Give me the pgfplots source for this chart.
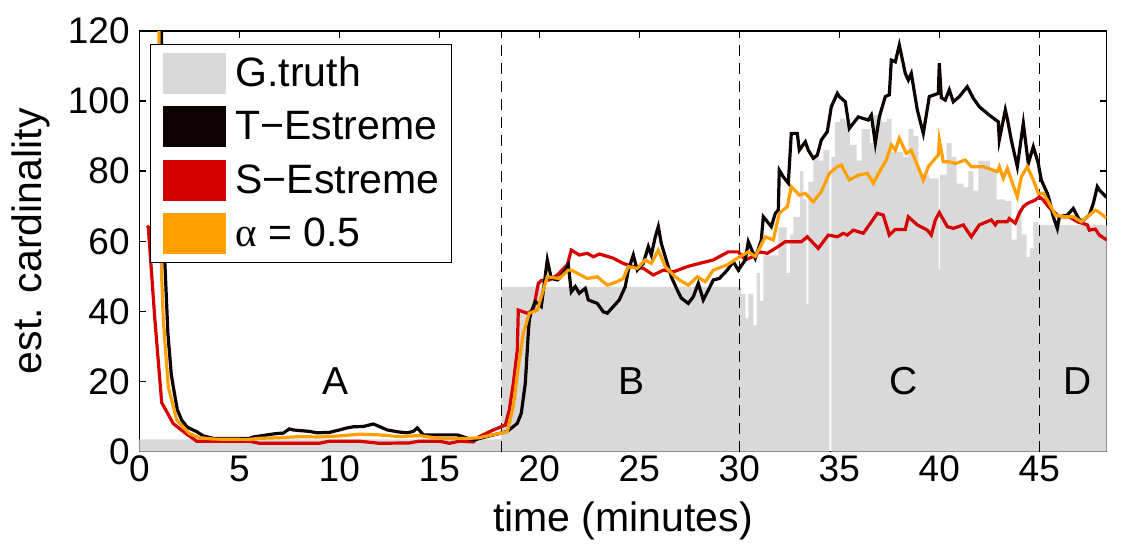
\documentclass[border=0pt]{standalone}
\usepackage{fontspec}
\setmainfont{Liberation Sans}
\newfontfamily\greekserif{Liberation Serif}
\usepackage{pgfplots}
\pgfplotsset{compat=1.18}
\definecolor{gtgray}{RGB}{217,217,217}
\definecolor{sred}{RGB}{214,0,0}
\definecolor{aorange}{RGB}{255,160,0}
\definecolor{tblack}{RGB}{12,2,2}

\begin{document}
\begin{tikzpicture}
\begin{axis}[
  scale only axis, width=483.7pt, height=210.35pt,
  xmin=0, xmax=48.37, ymin=0, ymax=120,
  xtick={0,5,...,45}, ytick={0,20,...,120},
  tick align=inside, major tick length=3.5pt,
  axis line style={line width=0.75pt},
  every tick/.style={line width=0.75pt, black},
  /pgf/number format/assume math mode=true,
  ticklabel style={font=\fontsize{18.5}{22}\selectfont},
  xticklabel style={anchor=base, yshift=-14.65pt, inner sep=0pt},
  yticklabel style={anchor=east, xshift=-4.65pt, inner sep=0pt},
  xlabel={time (minutes)},
  xlabel style={at={(axis description cs:0.5,-0.1902)}, anchor=base, font=\fontsize{20.5}{24}\selectfont},
  ylabel={est. cardinality},
  ylabel style={at={(axis description cs:-0.1006,0.5)}, anchor=base, font=\fontsize{20.5}{24}\selectfont},
  legend style={at={(axis description cs:0,1)}, anchor=north west, xshift=5.35pt, yshift=-6.5pt,
    draw=black, line width=0.6pt, fill=white, inner xsep=6pt, inner ysep=4pt,
    row sep=6.15pt, column sep=4.5pt,
    nodes={inner sep=0pt, font=\fontsize{20.5}{24}\selectfont}},
  legend cell align=left,
]
% ground truth cardinality (step function)
\addplot[forget plot, fill=gtgray, draw=none, const plot] coordinates {
(0,3.5) (18.1,47) (30.0,47) (30.1,45) (30.3,38) (30.45,45) (30.7,36) (30.87,51)
(31.04,43) (31.2,56) (31.95,64) (32.37,51) (32.54,62) (32.7,67) (33.04,80) (33.2,72)
(33.37,42) (33.45,77) (33.7,84) (33.95,83) (34.2,86) (34.5,0) (34.6,84) (34.79,94)
(35.04,95) (35.29,94) (35.54,87.5) (35.87,83) (36.12,92) (36.54,88) (36.7,96) (37.12,94)
(37.37,95) (37.62,85.5) (38.2,84) (38.45,92) (38.7,90) (38.95,79) (39.5,78) (39.97,52)
(40.03,79) (40.37,88) (40.62,84) (40.87,76.5) (41.2,75.5) (41.45,80) (41.7,74.5) (41.95,83)
(42.53,80) (42.87,72) (43.28,71.5) (43.62,60.5) (43.87,69) (44.12,62) (44.37,55.5) (44.53,58)
(44.7,65.5) (44.95,64.7) (48.37,64.7)
} \closedcycle;

% phase boundaries
\addplot[forget plot, black, line width=0.75pt, dash pattern=on 5.5pt off 3.5pt] coordinates {(18.1,0) (18.1,120)};
\addplot[forget plot, black, line width=0.75pt, dash pattern=on 5.5pt off 3.5pt] coordinates {(30,0) (30,120)};
\addplot[forget plot, black, line width=0.75pt, dash pattern=on 5.5pt off 3.5pt] coordinates {(45,0) (45,120)};

% S-Estreme
\addplot[forget plot, sred, line width=1.6pt] coordinates {
(0.4,64.5) (0.45,64) (0.78,37.6) (1.12,14) (1.7,8) (2.37,5) (2.87,3) (5.5,3) (6.0,2.4)
(9.0,2.4) (9.5,3.0) (11.0,3.0) (12.0,2.4) (13.5,2.5) (14.0,3.0) (15.0,3.0) (15.5,2.4)
(16.0,3.0) (16.7,2.8) (17.0,4.3) (17.7,6.2) (18.3,7.6) (18.5,11.9) (18.7,19.5) (18.9,29)
(18.95,40.4) (19.2,39.9) (19.4,39.5) (19.7,40.4) (19.95,48) (20.1,48.8) (20.5,49) (20.9,50.4)
(21.4,53.3) (21.6,57.5) (22.0,56.1) (22.4,56.6) (22.7,55.6) (23.0,56.4) (23.7,55.2) (24.2,53.7)
(24.7,52.8) (25.2,52.3) (25.7,50.4) (26.2,51.8) (26.7,51.3) (27.4,52.8) (28.0,53.7) (28.7,54.7)
(29.45,57) (29.95,57) (30.3,54.7) (30.7,55.7) (31.0,57) (31.4,56.6) (31.8,58) (32.3,59.9)
(33.1,59.9) (33.4,61.3) (33.95,58) (34.45,61.8) (34.9,61.3) (35.2,62.3) (35.4,61.8) (35.7,63.2)
(36.2,62.3) (36.5,64.7) (36.9,68) (37.2,67.5) (37.5,61.8) (37.8,63.4) (38.3,63.4) (38.45,67)
(38.9,64.7) (39.4,63.2) (39.6,61.8) (39.8,66.1) (40.0,68.2) (40.4,64.2) (40.7,63.7) (41.2,64.7)
(41.6,61.3) (42.0,64.7) (42.6,66.1) (42.8,64.7) (42.9,65.6) (43.4,65.6) (43.5,66.5) (43.8,65.2)
(44.0,68) (44.2,69.9) (44.4,70.8) (44.8,71.8) (45.0,72.7) (45.2,71.8) (45.45,69.9) (45.7,68.5)
(46.0,67) (46.5,67) (46.9,65.6) (47.4,64.7) (47.5,63.2) (47.8,63.5) (48.0,61.8) (48.37,60.4)
};

% T-Estreme
\addplot[forget plot, tblack, line width=1.6pt] coordinates {
(1.1,130) (1.18,64) (1.27,55) (1.43,33.8) (1.6,22) (1.7,18.5) (1.9,12) (2.12,9) (2.4,7)
(2.87,5.7) (3.2,4.5) (3.7,3.8) (5.5,3.8) (5.7,4.2) (6.87,5.2) (7.2,5.3) (7.5,6.5) (7.7,6.2)
(8.5,5.8) (8.87,5.4) (9.5,5.5) (10.0,6.2) (10.4,6.8) (10.7,7.1) (11.2,7.2) (11.7,7.9) (12.0,7.2)
(12.4,6.2) (13.0,5.6) (13.4,5.4) (13.7,5.8) (13.9,6.8) (14.2,4.8) (15.9,4.8) (16.7,3.3) (17.5,4.5)
(18.0,5.2) (18.4,5.8) (18.9,8.1) (19.1,11) (19.3,19.5) (19.45,33.8) (19.5,37.6) (19.6,40)
(19.8,42.8) (20.1,41.4) (20.25,48) (20.4,54.7) (20.6,49.4) (20.9,49) (21.0,49.4) (21.3,51.8)
(21.45,53.3) (21.6,45.6) (21.8,47.1) (22.0,45.2) (22.3,46.6) (22.45,43.3) (22.9,42.3) (23.2,39.9)
(23.4,39.5) (23.7,41.4) (24.0,43.3) (24.3,47.1) (24.45,51.8) (24.7,56.1) (24.9,51.8) (25.2,53.7)
(25.45,58.5) (25.6,56.1) (25.8,61.3) (25.95,64.2) (26.1,59.4) (26.4,53.7) (26.6,49.9) (26.9,46.1)
(27.1,43.8) (27.45,42.3) (27.7,44.2) (27.95,48) (28.2,43.3) (28.45,46.1) (28.7,49) (29.0,49.4)
(29.4,51.8) (29.7,54.2) (29.95,51.8) (30.3,54.7) (30.45,59.9) (30.8,55.2) (31.1,60.4) (31.2,67)
(31.6,64.2) (31.8,68) (31.95,68.9) (32.0,80.3) (32.2,78.4) (32.45,76.6) (32.6,90.8) (32.9,90.8)
(33.0,86) (33.3,88.4) (33.45,86) (33.7,83.7) (33.9,84.6) (34.1,88.9) (34.4,91.3) (34.6,98.4)
(34.9,102.2) (35.0,101.3) (35.3,99.8) (35.5,92.2) (35.95,95.5) (36.45,94.6) (36.6,96) (36.8,88)
(37.0,95.5) (37.3,101.3) (37.5,101.8) (37.6,111.7) (37.8,111.2) (38.0,116) (38.3,107.9) (38.45,106)
(38.6,107.9) (38.9,97.5) (39.2,90.8) (39.5,101.3) (39.95,102.2) (40.0,110.8) (40.1,101) (40.3,100.3)
(40.5,103.2) (40.7,99.8) (41.0,101.3) (41.4,104.1) (41.7,100.8) (42.0,98.4) (42.5,96) (42.95,94.1)
(43.0,88.9) (43.3,97.5) (43.4,95) (43.6,88.9) (43.9,81.3) (44.2,93.7) (44.45,82.2) (44.7,87)
(44.95,82.2) (45.1,77.5) (45.4,73.7) (45.5,71.8) (45.7,67) (45.9,63.7) (46.0,67) (46.4,67.5)
(46.7,69.4) (47.0,66.1) (47.2,66) (47.5,67.5) (47.7,70.8) (47.9,75.6) (48.0,74.7) (48.37,72.5)
};

% alpha = 0.5
\addplot[forget plot, aorange, line width=1.6pt] coordinates {
(0.97,130) (1.05,64) (1.12,50) (1.2,37.6) (1.45,18.5) (1.87,9) (2.5,5.2) (3.0,4.0) (3.7,3.6)
(5.5,3.5) (6.0,3.8) (7.0,4.0) (8.0,4.3) (9.0,4.2) (10.0,4.5) (11.0,5.0) (12.0,4.8) (13.0,4.3)
(14.0,4.6) (15.0,3.8) (16.5,3.8) (17.0,4.0) (18.4,5.7) (18.7,12.8) (18.95,24.2) (19.2,33.8)
(19.5,39.5) (19.9,40.4) (20.4,49.9) (21.0,49.4) (21.45,51.8) (21.6,51.8) (22.4,49.4) (22.9,49.9)
(23.4,47.5) (23.9,48.5) (24.2,49.4) (24.45,52.8) (24.9,52.3) (25.3,54.7) (25.6,53.7) (25.95,57.5)
(26.3,52.8) (26.7,50.4) (27.0,49) (27.45,47.5) (27.9,49.9) (28.3,48.5) (28.7,51.8) (29.4,53.3)
(29.9,55.2) (30.45,57) (30.8,55.7) (31.3,61.3) (31.7,60.4) (32.0,68) (32.4,69.9) (32.6,75.6)
(33.0,73.2) (33.3,73.7) (33.7,71.3) (34.1,74.2) (34.5,79.4) (34.9,81.3) (35.1,81.8) (35.5,77.5)
(35.95,78.9) (36.4,79.4) (36.7,76.6) (37.1,80.8) (37.35,83.2) (37.6,87.5) (37.8,86) (38.0,89.4)
(38.35,85.1) (38.6,86) (38.9,81.8) (39.2,77.5) (39.45,81.3) (39.8,83.7) (39.95,84.6) (40.0,88.9)
(40.2,82.7) (40.5,82.7) (40.8,82.2) (41.3,83.2) (41.6,81.3) (42.2,81.3) (42.9,79.9) (43.0,81.3)
(43.2,78) (43.4,80.8) (43.6,77.5) (43.9,72.7) (44.1,78.4) (44.4,81.3) (44.7,77.5) (44.95,73.7)
(45.2,73.7) (45.5,70.8) (45.8,67.5) (46.2,67) (46.7,67) (47.1,65.6) (47.4,67) (47.8,68.9)
(47.95,68.5) (48.37,66.6)
};

% phase names
\node[anchor=base, font=\fontsize{19.5}{23}\selectfont] at (axis cs:9.8,16.2) {A};
\node[anchor=base, font=\fontsize{19.5}{23}\selectfont] at (axis cs:24.6,16.2) {B};
\node[anchor=base, font=\fontsize{19.5}{23}\selectfont] at (axis cs:38.2,16.2) {C};
\node[anchor=base, font=\fontsize{19.5}{23}\selectfont] at (axis cs:46.9,16.2) {D};

% legend with solid colour blocks
\addlegendimage{legend image code/.code={\fill[gtgray] (0pt,-10pt) rectangle (31.35pt,10pt);}}
\addlegendentry{G.truth}
\addlegendimage{legend image code/.code={\fill[tblack] (0pt,-10pt) rectangle (31.35pt,10pt);}}
\addlegendentry{T−Estreme}
\addlegendimage{legend image code/.code={\fill[sred] (0pt,-10pt) rectangle (31.35pt,10pt);}}
\addlegendentry{S−Estreme}
\addlegendimage{legend image code/.code={\fill[aorange] (0pt,-10pt) rectangle (31.35pt,10pt);}}
\addlegendentry{{\greekserif α} = 0.5}
\end{axis}
\pgfresetboundingbox
\path (-69.65pt,-48.15pt) rectangle (492.85pt,225.85pt);
\end{tikzpicture}
\end{document}
